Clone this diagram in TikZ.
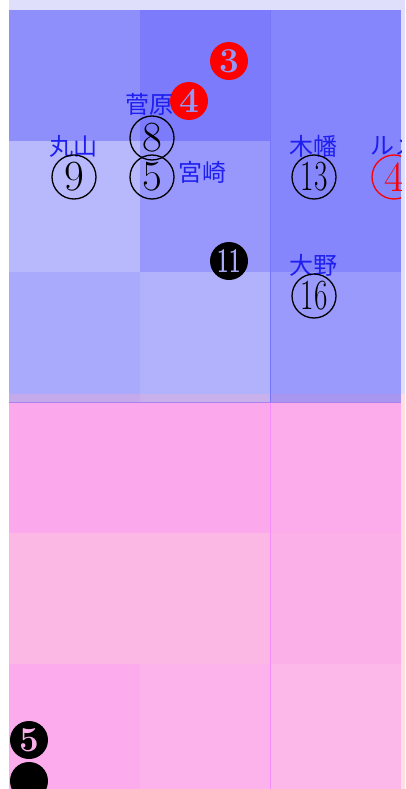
\documentclass[tikz,border=0pt]{standalone}
\usepackage{fontspec}
\usepackage{graphicx}
\newfontfamily\jpfont{Noto Sans CJK JP}
\definecolor{topbg}{RGB}{223,223,252}
\definecolor{rightpink}{RGB}{253,224,224}
\definecolor{bA}{RGB}{143,143,252}
\definecolor{bB}{RGB}{123,123,252}
\definecolor{bC}{RGB}{134,134,252}
\definecolor{bD}{RGB}{184,184,252}
\definecolor{bE}{RGB}{152,152,252}
\definecolor{bF}{RGB}{133,133,252}
\definecolor{bG}{RGB}{170,170,252}
\definecolor{bH}{RGB}{178,178,252}
\definecolor{bI}{RGB}{154,154,252}
\definecolor{pA}{RGB}{252,168,236}
\definecolor{pB}{RGB}{252,168,236}
\definecolor{pC}{RGB}{252,172,234}
\definecolor{pD}{RGB}{252,184,228}
\definecolor{pE}{RGB}{252,184,228}
\definecolor{pF}{RGB}{252,176,232}
\definecolor{pG}{RGB}{252,172,236}
\definecolor{pH}{RGB}{252,178,234}
\definecolor{pI}{RGB}{252,184,232}
\definecolor{ovA}{RGB}{196,170,234}
\definecolor{ovB}{RGB}{200,176,236}
\definecolor{ovC}{RGB}{168,150,240}
\definecolor{bline}{RGB}{118,118,250}
\definecolor{pline}{RGB}{246,140,248}
\definecolor{ovline}{RGB}{170,130,240}
\definecolor{nametext}{RGB}{30,30,240}
\definecolor{holeblue}{RGB}{150,150,245}
\definecolor{holeblueb}{RGB}{170,170,250}
\definecolor{holepink}{RGB}{252,176,234}
\tikzset{
  namelabel/.style={font=\jpfont\fontsize{24}{24}\selectfont, text=nametext, inner sep=0pt},
  ringnum/.style={circle, draw=black, line width=1.3pt, minimum size=44pt, inner sep=0pt,
    font=\fontsize{43}{43}\selectfont},
  ringred/.style={ringnum, draw=red, text=red},
  dotnum/.style={circle, minimum size=38pt, inner sep=0pt,
    font=\bfseries\fontsize{35}{35}\selectfont},
  dotred/.style={dotnum, fill=red},
  dotblack/.style={dotnum, fill=black}
}
\begin{document}
\begin{tikzpicture}[x=1pt,y=-1pt]
\useasboundingbox (0,0) rectangle (405,789);
\fill[white] (0,0) rectangle (405,789);
\fill[topbg] (9,0) rectangle (405,394);
\fill[rightpink] (401,394) rectangle (405,789);
% pink grid
\fill[pA] (9,394) rectangle (140,533);
\fill[pB] (140,394) rectangle (270,533);
\fill[pC] (270,394) rectangle (401,533);
\fill[pD] (9,533) rectangle (140,664);
\fill[pE] (140,533) rectangle (270,664);
\fill[pF] (270,533) rectangle (401,664);
\fill[pG] (9,664) rectangle (140,789);
\fill[pH] (140,664) rectangle (270,789);
\fill[pI] (270,664) rectangle (401,789);
\draw[pline, line width=0.8pt] (270,394) -- (270,789);
% blue grid
\fill[bA] (9,10) rectangle (140,141);
\fill[bB] (140,10) rectangle (270,141);
\fill[bC] (270,10) rectangle (401,141);
\fill[bD] (9,141) rectangle (140,272);
\fill[bE] (140,141) rectangle (270,272);
\fill[bF] (270,141) rectangle (401,272);
\fill[bG] (9,272) rectangle (140,394);
\fill[bH] (140,272) rectangle (270,394);
\fill[bI] (270,272) rectangle (401,394);
% overlap band
\fill[ovA] (9,394) rectangle (140,402);
\fill[ovB] (140,394) rectangle (270,402);
\fill[ovC] (270,394) rectangle (401,402);
\draw[ovline, line width=0.8pt] (9,402) -- (401,402);
\draw[bline, line width=0.8pt] (270,10) -- (270,402);
\begin{scope}
\clip (9,0) rectangle (401,789);
\node[dotred, text=holeblue] (d3) at (229,61) {3};
\node[dotred, text=holeblue] (d4) at (189,101) {4};
\node[namelabel] (sugawara) at (149,104) {菅原};
\node[ringnum] (r8) at (152,138) {8};
\node[namelabel] (maruyama) at (73,146) {丸山};
\node[ringnum] (r9) at (74,177) {9};
\node[ringnum] (r5) at (152,177) {5};
\node[namelabel] (miyazaki) at (202,172) {宮崎};
\node[namelabel] (kohata) at (313,146) {木幡};
\node[ringnum] (r13) at (314,177) {\scalebox{0.68}[1]{13}};
\node[namelabel] (lemaire) at (394,146) {ルメ};
\node[ringred] (r4) at (394,177) {4};
\node[dotblack, text=holeblueb] (d11) at (229,261) {\scalebox{0.58}[1]{11}};
\node[namelabel] (ono) at (313,265) {大野};
\node[ringnum] (r16) at (314,296) {\scalebox{0.68}[1]{16}};
\node[dotblack, text=holepink] (d5) at (29,740) {5};
\node[dotblack] (d6) at (29,781) {};
\end{scope}
\end{tikzpicture}
\end{document}
